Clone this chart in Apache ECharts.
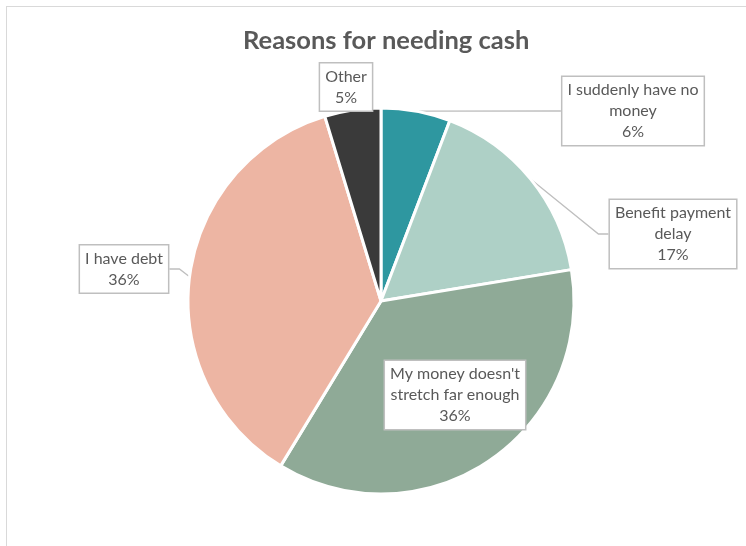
<!DOCTYPE html>
<html>
<head>
<meta charset="utf-8">
<script src="https://cdn.jsdelivr.net/npm/echarts@6/dist/echarts.min.js"></script>
<style>
html,body{margin:0;padding:0;background:#fff;}
#frame{position:absolute;left:6px;top:6px;width:760px;height:560px;border-left:1.5px solid #D9D9D9;border-top:1.5px solid #D9D9D9;}
#chart{position:absolute;left:0;top:0;width:746px;height:546px;}
</style>
</head>
<body>
<div id="frame"></div>
<div id="chart"></div>
<script>
const categories = ["I suddenly have no money", "Benefit payment delay", "My money doesn't stretch far enough", "I have debt", "Other"];
const labelLines = [["I suddenly have no", "money"], ["Benefit payment", "delay"], ["My money doesn't", "stretch far enough"], ["I have debt"], ["Other"]];
const shares = [5.8, 16.6, 36.3, 36.6, 4.7];
const percentLabels = ["6%", "17%", "36%", "36%", "5%"];
const colors = ["#2E97A0", "#AED0C6", "#8FAA97", "#EDB5A3", "#3A3A3A"];
const labelCenters = [[633, 111], [673, 234], [455, 395], [124, 269], [346, 87]];

const chart = echarts.init(document.getElementById('chart'), null, {renderer: 'canvas'});
chart.setOption({
  backgroundColor: 'transparent',
  title: {
    text: 'Reasons for needing cash',
    left: 238,
    top: 23,
    textStyle: {fontFamily: 'Lato', fontWeight: 'bold', fontSize: 25.5, color: '#595959'}
  },
  series: [{
    type: 'pie',
    center: [381, 301],
    radius: 193,
    startAngle: 90,
    clockwise: true,
    avoidLabelOverlap: false,
    itemStyle: {borderColor: '#fff', borderWidth: 3},
    label: {
      show: true,
      position: 'outside',
      fontFamily: 'Lato',
      fontSize: 16,
      lineHeight: 21,
      color: '#595959',
      align: 'center',
      backgroundColor: '#fff',
      borderColor: '#BFBFBF',
      borderWidth: 1.5,
      padding: [3, 5, 2, 5],
      formatter: p => labelLines[p.dataIndex].concat([percentLabels[p.dataIndex]]).join('\n')
    },
    labelLine: {show: true, smooth: false, length: 10, length2: 10, lineStyle: {color: '#BFBFBF', width: 1.3}},
    labelLayout: function (params) {
      const c = labelCenters[params.dataIndex];
      return {x: c[0], y: c[1], align: 'center', verticalAlign: 'middle'};
    },
    emphasis: {disabled: true},
    data: categories.map((n, i) => ({name: n, value: shares[i], itemStyle: {color: colors[i]}}))
  }]
});
</script>
</body>
</html>
